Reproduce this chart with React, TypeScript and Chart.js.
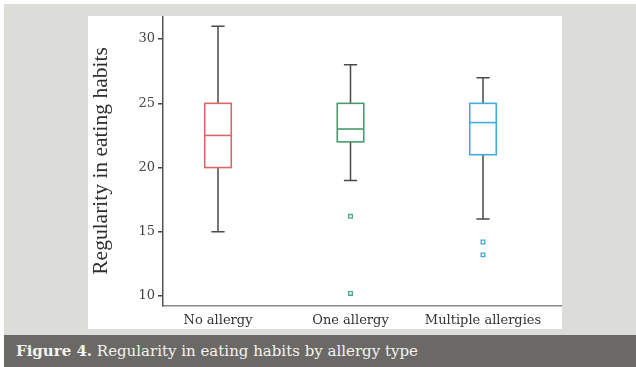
import React, { useEffect, useRef } from "react";
import { Chart, registerables } from "chart.js";

Chart.register(...registerables);

const categories = ["No allergy", "One allergy", "Multiple allergies"];
const whiskerMin = [15, 19, 16];
const q1 = [20, 22, 21];
const median = [22.5, 23, 23.5];
const q3 = [25, 25, 25];
const whiskerMax = [31, 28, 27];
const outlierCategory = [1, 1, 2, 2];
const outlierValues = [16.2, 10.2, 14.2, 13.2];
const yTicks = [10, 15, 20, 25, 30];

const boxColors = ["#d46a6a", "#4b9a6c", "#4aaadc"];
const outlierColors = ["#d46a6a", "#4fa795", "#46a6d8"];

const boxPlugin = {
  id: "boxes",
  afterDatasetsDraw(chart: any) {
    const ctx = chart.ctx;
    const xs = chart.scales.x;
    const ys = chart.scales.y;
    const halfBox = 0.1;
    const halfCap = 0.05;
    ctx.save();
    categories.forEach((_, i) => {
      const cx = xs.getPixelForValue(i);
      const bl = xs.getPixelForValue(i - halfBox);
      const br = xs.getPixelForValue(i + halfBox);
      const cl = xs.getPixelForValue(i - halfCap);
      const cr = xs.getPixelForValue(i + halfCap);
      const yMin = ys.getPixelForValue(whiskerMin[i]);
      const yQ1 = ys.getPixelForValue(q1[i]);
      const yMed = ys.getPixelForValue(median[i]);
      const yQ3 = ys.getPixelForValue(q3[i]);
      const yMax = ys.getPixelForValue(whiskerMax[i]);
      ctx.strokeStyle = "#4a4a4a";
      ctx.lineWidth = 1.5;
      ctx.beginPath();
      ctx.moveTo(cx, yQ3);
      ctx.lineTo(cx, yMax);
      ctx.moveTo(cl, yMax);
      ctx.lineTo(cr, yMax);
      ctx.moveTo(cx, yQ1);
      ctx.lineTo(cx, yMin);
      ctx.moveTo(cl, yMin);
      ctx.lineTo(cr, yMin);
      ctx.stroke();
      ctx.fillStyle = "#ffffff";
      ctx.fillRect(bl, yQ3, br - bl, yQ1 - yQ3);
      ctx.strokeStyle = boxColors[i];
      ctx.lineWidth = 1.6;
      ctx.strokeRect(bl, yQ3, br - bl, yQ1 - yQ3);
      ctx.beginPath();
      ctx.moveTo(bl, yMed);
      ctx.lineTo(br, yMed);
      ctx.stroke();
    });
    ctx.restore();
  },
};

function ChartBox() {
  const ref = useRef<HTMLCanvasElement>(null);
  useEffect(() => {
    if (!ref.current) return;
    const points = outlierValues.map((v, k) => ({ x: outlierCategory[k], y: v }));
    const chart = new Chart(ref.current, {
      type: "scatter",
      data: {
        datasets: [
          {
            data: points,
            pointStyle: "rect",
            pointRadius: 2.6,
            borderWidth: 1.3,
            borderColor: points.map((p) => outlierColors[p.x]),
            backgroundColor: "rgba(255,255,255,0.6)",
            clip: false,
          } as any,
        ],
      },
      options: {
        animation: false,
        responsive: false,
        maintainAspectRatio: false,
        layout: { padding: 0, autoPadding: false },
        plugins: { legend: { display: false }, tooltip: { enabled: false } },
        scales: {
          x: {
            type: "linear",
            min: -0.415,
            max: 2.596,
            afterBuildTicks: (s: any) => {
              s.ticks = categories.map((_, i) => ({ value: i }));
            },
            afterFit: (s: any) => {
              s.height = 23;
              s.paddingLeft = 0;
              s.paddingRight = 0;
            },
            grid: { display: false, drawTicks: false },
            border: { display: true, color: "#8a8a8a", width: 1.5 },
            ticks: {
              padding: 7,
              color: "#333333",
              font: { family: "DejaVu Serif", size: 13 },
              callback: (v: any) => categories[v] ?? "",
              maxRotation: 0,
            },
          },
          y: {
            type: "linear",
            min: 9.22,
            max: 31.8,
            afterBuildTicks: (s: any) => {
              s.ticks = yTicks.map((v) => ({ value: v }));
            },
            afterFit: (s: any) => {
              s.width = 75;
              s.paddingTop = 0;
              s.paddingBottom = 0;
            },
            grid: { drawOnChartArea: false, tickLength: 5, color: "#444444", lineWidth: 1.5 },
            border: { display: true, color: "#555555", width: 1.5 },
            ticks: {
              padding: 3,
              color: "#444444",
              font: { family: "DejaVu Serif", size: 13 },
            },
            title: {
              display: true,
              text: "Regularity in eating habits",
              color: "#2e2e2e",
              padding: 0,
              font: { family: "Liberation Serif", size: 21.5 },
            },
          },
        },
      },
      plugins: [boxPlugin],
    });
    return () => chart.destroy();
  }, []);
  return <canvas ref={ref} width={474} height={313} style={{ display: "block" }} />;
}

export default function App() {
  return (
    <div style={{ position: "fixed", left: 0, top: 0, width: 636, height: 367, background: "#ffffff", overflow: "hidden" }}>
      <div style={{ position: "absolute", left: 4, top: 4, width: 632, height: 331, background: "#dcdcd9" }} />
      <div style={{ position: "absolute", left: 88, top: 16, width: 474, height: 313, background: "#ffffff" }}>
        <ChartBox />
      </div>
      <div
        style={{
          position: "absolute",
          left: 4,
          top: 335,
          width: 632,
          height: 32,
          background: "#6b6966",
          color: "#f3f3f1",
          fontFamily: "DejaVu Serif",
          fontSize: 15,
          lineHeight: "32px",
          paddingLeft: 12,
          boxSizing: "border-box",
          whiteSpace: "nowrap",
        }}
      >
        <b>Figure 4.</b> Regularity in eating habits by allergy type
      </div>
    </div>
  );
}
